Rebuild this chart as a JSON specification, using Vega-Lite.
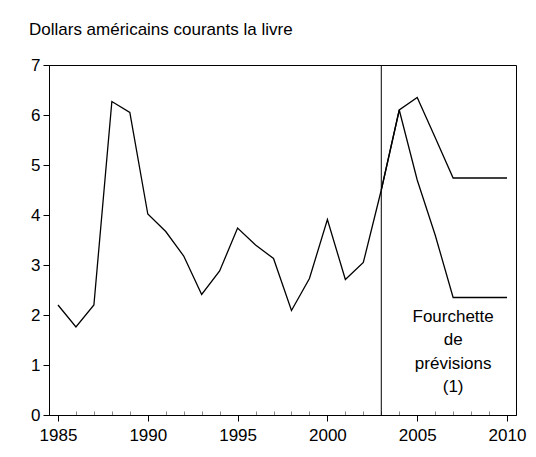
{
  "$schema": "https://vega.github.io/schema/vega-lite/v6.json",
  "width": 467,
  "height": 350,
  "autosize": {"type": "none"},
  "padding": {"left": 49, "top": 65, "right": 20, "bottom": 42},
  "background": "white",
  "title": {
    "text": "Dollars américains courants la livre",
    "anchor": "start",
    "frame": "group",
    "dx": -20,
    "baseline": "alphabetic",
    "offset": 4,
    "font": "Liberation Sans",
    "fontSize": 17,
    "fontWeight": "normal",
    "color": "black"
  },
  "config": {
    "view": {"stroke": "black", "strokeWidth": 1},
    "font": "Liberation Sans",
    "axis": {
      "domainColor": "black",
      "tickColor": "black",
      "labelColor": "black",
      "labelFont": "Liberation Sans",
      "labelFontSize": 17,
      "grid": false,
      "title": null
    }
  },
  "datasets": {
    "prix": [
      {"annee": 1985, "valeur": 2.2, "serie": "hist"},
      {"annee": 1986, "valeur": 1.76, "serie": "hist"},
      {"annee": 1987, "valeur": 2.2, "serie": "hist"},
      {"annee": 1988, "valeur": 6.27, "serie": "hist"},
      {"annee": 1989, "valeur": 6.05, "serie": "hist"},
      {"annee": 1990, "valeur": 4.02, "serie": "hist"},
      {"annee": 1991, "valeur": 3.67, "serie": "hist"},
      {"annee": 1992, "valeur": 3.18, "serie": "hist"},
      {"annee": 1993, "valeur": 2.41, "serie": "hist"},
      {"annee": 1994, "valeur": 2.88, "serie": "hist"},
      {"annee": 1995, "valeur": 3.74, "serie": "hist"},
      {"annee": 1996, "valeur": 3.4, "serie": "hist"},
      {"annee": 1997, "valeur": 3.13, "serie": "hist"},
      {"annee": 1998, "valeur": 2.09, "serie": "hist"},
      {"annee": 1999, "valeur": 2.73, "serie": "hist"},
      {"annee": 2000, "valeur": 3.91, "serie": "hist"},
      {"annee": 2001, "valeur": 2.71, "serie": "hist"},
      {"annee": 2002, "valeur": 3.05, "serie": "hist"},
      {"annee": 2003, "valeur": 4.5, "serie": "hist"},
      {"annee": 2003, "valeur": 4.5, "serie": "haut"},
      {"annee": 2004, "valeur": 6.1, "serie": "haut"},
      {"annee": 2005, "valeur": 6.35, "serie": "haut"},
      {"annee": 2006, "valeur": 5.55, "serie": "haut"},
      {"annee": 2007, "valeur": 4.74, "serie": "haut"},
      {"annee": 2008, "valeur": 4.74, "serie": "haut"},
      {"annee": 2009, "valeur": 4.74, "serie": "haut"},
      {"annee": 2010, "valeur": 4.74, "serie": "haut"},
      {"annee": 2003, "valeur": 4.5, "serie": "bas"},
      {"annee": 2004, "valeur": 6.1, "serie": "bas"},
      {"annee": 2005, "valeur": 4.7, "serie": "bas"},
      {"annee": 2006, "valeur": 3.6, "serie": "bas"},
      {"annee": 2007, "valeur": 2.35, "serie": "bas"},
      {"annee": 2008, "valeur": 2.35, "serie": "bas"},
      {"annee": 2009, "valeur": 2.35, "serie": "bas"},
      {"annee": 2010, "valeur": 2.35, "serie": "bas"}
    ]
  },
  "layer": [
    {
      "data": {"name": "prix"},
      "mark": {"type": "line", "color": "black", "strokeWidth": 1.3},
      "encoding": {
        "x": {
          "field": "annee", "type": "quantitative",
          "scale": {"domain": [1984.5, 2010.5], "nice": false, "zero": false},
          "axis": {
            "orient": "bottom",
            "values": [1985, 1986, 1987, 1988, 1989, 1990, 1991, 1992, 1993, 1994, 1995, 1996, 1997, 1998, 1999, 2000, 2001, 2002, 2003, 2004, 2005, 2006, 2007, 2008, 2009, 2010],
            "tickCount": 40,
            "labelExpr": "datum.value % 5 === 0 ? format(datum.value, 'd') : ''",
            "labelOverlap": false,
            "tickSize": {"condition": {"test": "datum.value % 5 === 0", "value": 6}, "value": -4},
            "tickColor": {"condition": {"test": "datum.value % 5 === 0", "value": "black"}, "value": "#888888"},
            "labelPadding": 6
          }
        },
        "y": {
          "field": "valeur", "type": "quantitative",
          "scale": {"domain": [0, 7], "nice": false},
          "axis": {
            "values": [0, 1, 2, 3, 4, 5, 6, 7],
            "format": "d",
            "tickSize": 6,
            "labelPadding": 3
          }
        },
        "detail": {"field": "serie"}
      }
    },
    {
      "data": {"values": [{"annee": 2003}]},
      "mark": {"type": "rule", "color": "black", "strokeWidth": 1},
      "encoding": {
        "x": {"field": "annee", "type": "quantitative"}
      }
    },
    {
      "data": {"values": [{"annee": 2007, "valeur": 1.97, "texte": ["Fourchette", "de", "prévisions", "(1)"]}]},
      "mark": {"type": "text", "font": "Liberation Sans", "fontSize": 17, "lineHeight": 23.5, "align": "center", "baseline": "middle", "color": "black"},
      "encoding": {
        "x": {"field": "annee", "type": "quantitative"},
        "y": {"field": "valeur", "type": "quantitative"},
        "text": {"field": "texte"}
      }
    }
  ]
}
